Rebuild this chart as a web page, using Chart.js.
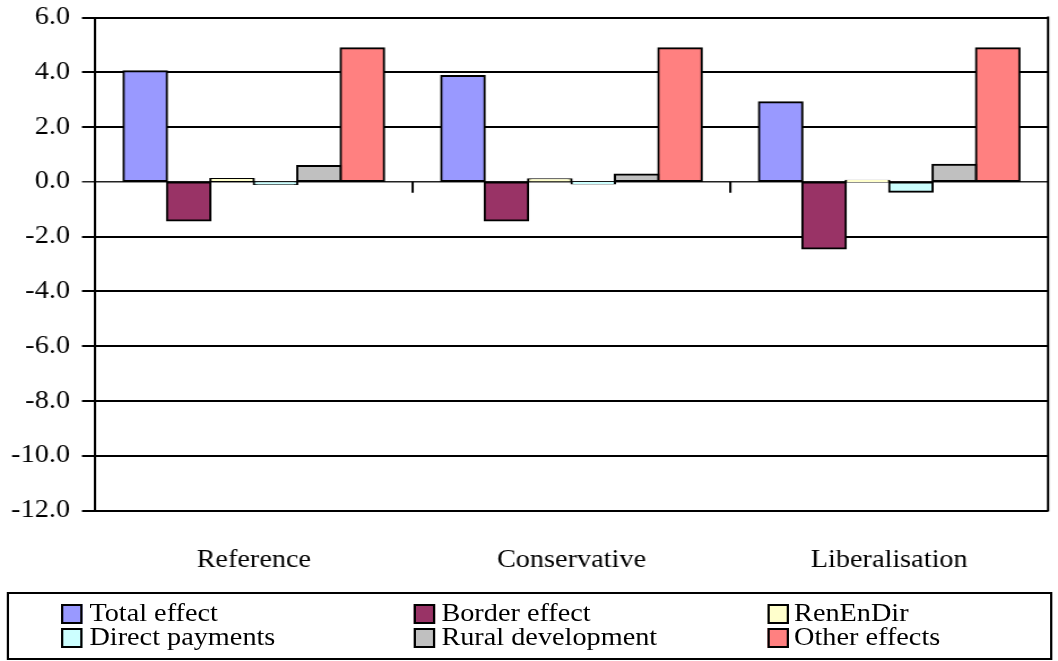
<!DOCTYPE html>
<html>
<head>
<meta charset="utf-8">
<script src="https://cdn.jsdelivr.net/npm/chart.js@4.4.1/dist/chart.umd.min.js"></script>
<style>
  html, body { margin: 0; padding: 0; background: #fff; overflow: hidden; }
  /* drawn at a narrower width and widened horizontally, like a stretched office chart */
  #stage { position: absolute; left: 0; top: 0; width: 936px; height: 661px;
           transform: scaleX(1.13034); transform-origin: 0 0; }
  #plot { position: absolute; left: 0; top: 0; width: 936px; height: 580px; }
  #legend { position: absolute; left: 6.2px; top: 592px; width: 925px; height: 68px;
            border: 2.5px solid #000; box-sizing: border-box;
            font-family: "Liberation Serif", "Times New Roman", Tinos, "DejaVu Serif", serif;
            font-size: 25px; color: #000; }
  .sw { position: absolute; width: 19px; height: 20px; box-sizing: border-box; border: 2.5px solid #000; }
  .lb { position: absolute; line-height: 24px; white-space: nowrap; }
</style>
</head>
<body>
<div id="stage">
  <canvas id="plot" width="936" height="580"></canvas>
  <div id="legend"></div>
</div>
<script>
// Scenarios on the category axis
const categories = ['Reference', 'Conservative', 'Liberalisation'];

// Series names and values per scenario
const seriesNames = ['Total effect', 'Border effect', 'RenEnDir', 'Direct payments', 'Rural development', 'Other effects'];
const totalEffect      = [4.04, 3.86, 2.91];
const borderEffect     = [-1.41, -1.41, -2.43];
const renEnDir         = [0.10, 0.09, 0.04];
const directPayments   = [-0.08, -0.06, -0.36];
const ruralDevelopment = [0.58, 0.27, 0.62];
const otherEffects     = [4.88, 4.88, 4.88];

// Value axis tick labels
const yTickValues = [-12, -10, -8, -6, -4, -2, 0, 2, 4, 6];

const seriesValues = [totalEffect, borderEffect, renEnDir, directPayments, ruralDevelopment, otherEffects];
const seriesColors = ['#9999FF', '#993366', '#FFFFCC', '#CCFFFF', '#C0C0C0', '#FF8080'];

const fontFamily = '"Liberation Serif", "Times New Roman", Tinos, "DejaVu Serif", serif';
const xFont = { family: fontFamily, size: 25 };
// compact line height keeps the top label from pushing the plot down
const yFont = { family: fontFamily, size: 25, lineHeight: 0.4 };

// Plot frame on the right and small category ticks on the zero line
const framePlugin = {
  id: 'frame',
  afterDatasetsDraw(chart) {
    const { ctx, chartArea, scales } = chart;
    const x = scales.x, y = scales.y;
    const zero = y.getPixelForValue(0);
    ctx.save();
    ctx.strokeStyle = '#000';
    ctx.lineWidth = 2;
    ctx.beginPath();
    ctx.moveTo(chartArea.right, chartArea.top - 1);
    ctx.lineTo(chartArea.right, chartArea.bottom + 1);
    for (let i = 0; i <= categories.length; i++) {
      const px = x.getPixelForValue(i - 0.5);
      ctx.moveTo(px, zero);
      ctx.lineTo(px, zero + 11);
    }
    ctx.stroke();
    ctx.restore();
  }
};

const chart = new Chart(document.getElementById('plot'), {
  type: 'bar',
  data: {
    labels: categories,
    datasets: seriesNames.map((name, i) => ({
      label: name,
      data: seriesValues[i],
      backgroundColor: seriesColors[i],
      borderColor: '#000',
      borderWidth: 2,
      borderSkipped: false,
      inflateAmount: 1
    }))
  },
  options: {
    responsive: false,
    animation: false,
    devicePixelRatio: 1,
    layout: { padding: { left: 0, right: 8.8, top: 17.5, bottom: 0 } },
    datasets: { bar: { categoryPercentage: 0.82, barPercentage: 1 } },
    plugins: { legend: { display: false }, tooltip: { enabled: false } },
    scales: {
      x: {
        grid: { display: false },
        border: { display: false },
        ticks: { font: xFont, color: '#000', padding: 27 },
        afterFit(s) { s.height = 69.5; }
      },
      y: {
        min: -12,
        max: 6,
        afterBuildTicks(s) { s.ticks = yTickValues.map(v => ({ value: v })); },
        ticks: { font: yFont, color: '#000', padding: 10.6, callback: v => Number(v).toFixed(1) },
        grid: {
          color: ctx => (ctx.tick && ctx.tick.value === 0 ? '#222' : '#000'),
          lineWidth: ctx => (ctx.tick && ctx.tick.value === 0 ? 1.5 : 2),
          tickLength: 11.5
        },
        border: { color: '#000', width: 2 },
        afterFit(s) { s.width = 84; }
      }
    }
  },
  plugins: [framePlugin]
});

// Legend: three columns, two rows, built from the chart's datasets
const legendEl = document.getElementById('legend');
const colLeft = [45.9, 358.3, 671.3];
const colText = [70.9, 382.3, 694.3];
const rowSwatchTop = [9.8, 33.8];
const rowTextTop = [6.8, 30.8];
chart.data.datasets.forEach((ds, i) => {
  const col = i % 3, row = Math.floor(i / 3);
  const sw = document.createElement('div');
  sw.className = 'sw';
  sw.style.left = colLeft[col] + 'px';
  sw.style.top = rowSwatchTop[row] + 'px';
  sw.style.background = ds.backgroundColor;
  legendEl.appendChild(sw);
  const lb = document.createElement('div');
  lb.className = 'lb';
  lb.style.left = colText[col] + 'px';
  lb.style.top = rowTextTop[row] + 'px';
  lb.textContent = ds.label;
  legendEl.appendChild(lb);
});
</script>
</body>
</html>
